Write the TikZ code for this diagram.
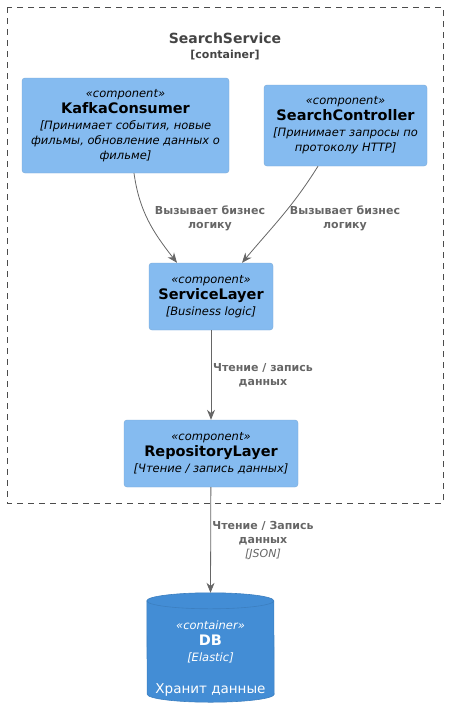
\documentclass[tikz,border=0pt]{standalone}
\usepackage{fontspec}
\setmainfont{DejaVu Sans}
\usetikzlibrary{arrows.meta}

\definecolor{compfill}{HTML}{85BBF0}
\definecolor{compline}{HTML}{78A8D8}
\definecolor{dbfill}{HTML}{438DD5}
\definecolor{dbline}{HTML}{3C7FC0}
\definecolor{relgray}{HTML}{666666}
\definecolor{titlegray}{HTML}{444444}

\tikzset{
  comp/.style={draw=compline, fill=compfill, rounded corners=3pt, align=center, inner sep=0pt,
               font=\fontsize{11.5}{15}\selectfont},
  rel/.style={draw=relgray, line width=0.8pt, -{Stealth[length=10pt,width=8pt]}},
  rellabel/.style={text=relgray, align=center, font=\fontsize{11}{14}\selectfont\bfseries},
}
\newcommand{\stereo}[1]{{\itshape «#1»}}
\newcommand{\cname}[1]{{\fontsize{14.5}{17}\selectfont\bfseries #1}}
\newcommand{\cdesc}[1]{{\itshape #1}}

\begin{document}
\begin{tikzpicture}[x=1pt,y=1pt]
    \useasboundingbox (0,0) rectangle (448,-718);
    % container boundary
    \draw[black!70, dash pattern=on 6pt off 5pt] (7,-7) rectangle (443,-503);
    \node[text=titlegray, font=\fontsize{14}{17}\selectfont\bfseries] (title) at (225,-38) {SearchService};
    \node[text=titlegray, font=\fontsize{11}{14}\selectfont\bfseries] (ctype) at (225,-55) {[container]};

    % components
    \node[comp, minimum width=207pt, minimum height=95pt] (kafka) at (125.5,-125.5)
      {\stereo{component}\\[1pt] \cname{KafkaConsumer}\\[1pt] \cdesc{[Принимает события, новые}\\ \cdesc{фильмы, обновление данных о}\\ \cdesc{фильме]}};
    \node[comp, minimum width=163pt, minimum height=81pt] (ctrl) at (345.5,-125.5)
      {\stereo{component}\\[1pt] \cname{SearchController}\\[1pt] \cdesc{[Принимает запросы по}\\ \cdesc{протоколу HTTP]}};
    \node[comp, minimum width=124pt, minimum height=67pt] (svc) at (211,-296.5)
      {\stereo{component}\\[1pt] \cname{ServiceLayer}\\[1pt] \cdesc{[Business logic]}};
    \node[comp, minimum width=174pt, minimum height=67pt] (repo) at (211,-453.5)
      {\stereo{component}\\[1pt] \cname{RepositoryLayer}\\[1pt] \cdesc{[Чтение / запись данных]}};

    % database
    \node[minimum width=127pt, minimum height=109pt, inner sep=0pt] (db) at (210.5,-647.5) {};
    \filldraw[fill=dbfill, draw=dbline, line width=0.6pt]
      ([yshift=-8pt]db.north west) arc[start angle=180, end angle=0, x radius=63.5pt, y radius=8pt]
      -- ([yshift=8pt]db.south east) arc[start angle=0, end angle=-180, x radius=63.5pt, y radius=8pt]
      -- cycle;
    \draw[dbline, line width=0.6pt] ([yshift=-8pt]db.north west)
      arc[start angle=180, end angle=360, x radius=63.5pt, y radius=8pt];
    \node[text=white, align=center, font=\fontsize{11.5}{15}\selectfont] (dbtext) at (210.5,-642)
      {\stereo{container}\\[1pt] \cname{DB}\\[1pt] \cdesc{[Elastic]}};
    \node[text=white, font=\fontsize{13.5}{16}\selectfont] (dbnote) at (210.5,-690) {Хранит данные};

    % relations
    \draw[rel] ([xshift=8.5pt]kafka.south) to[out=-82, in=128] ([xshift=-34pt]svc.north);
    \draw[rel] ([xshift=-27.5pt]ctrl.south) to[out=-122, in=50] ([xshift=31pt]svc.north);
    \draw[rel] (svc) -- (repo);
    \draw[rel] (repo) -- (db.north);

    \node[rellabel] (l1) at (210,-218) {Вызывает бизнес\\логику};
    \node[rellabel] (l2) at (345,-218) {Вызывает бизнес\\логику};
    \node[rellabel] (l3) at (263,-375) {Чтение / запись\\данных};
    \node[rellabel] (l4) at (263,-541) {Чтение / Запись\\данных\\{\mdseries\itshape [JSON]}};
\end{tikzpicture}
\end{document}
